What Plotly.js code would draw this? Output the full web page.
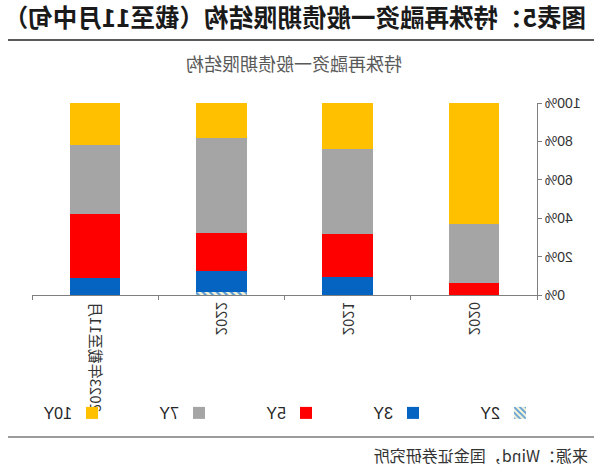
<!DOCTYPE html>
<html>
<head>
<meta charset="utf-8">
<script src="https://cdn.plot.ly/plotly-3.0.1.min.js"></script>
<style>
html,body{margin:0;padding:0;background:#fff;}
#chart{width:600px;height:474px;transform:scaleX(-1);transform-origin:50% 50%;}
</style>
</head>
<body>
<div id="chart"></div>
<script>
// Data
var categories = ["2020", "2021", "2022", "2023年截至11月"];
var seriesNames = ["2Y", "3Y", "5Y", "7Y", "10Y"];
var y2Y  = [0, 0, 1.8, 0];
var y3Y  = [0, 9.4, 10.6, 8.7];
var y5Y  = [6.3, 22.6, 20.0, 33.4];
var y7Y  = [30.7, 43.9, 49.3, 36.2];
var y10Y = [63.0, 24.1, 18.3, 21.7];
var yTickVals = [0, 20, 40, 60, 80, 100];
var yTickText = ["0%", "20%", "40%", "60%", "80%", "100%"];

var headerText = "图表5：特殊再融资一般债期限结构（截至11月中旬）";
var chartTitle = "特殊再融资一般债期限结构";
var sourceText = "来源：Wind，国金证券研究所";

// Layout geometry (pixels)
var W = 600, H = 474;
var M = {l: 63, r: 32, t: 103, b: 179};
var pw = W - M.l - M.r, ph = H - M.t - M.b;
function xp(px){ return (px - M.l) / pw; }
function yp(py){ return (H - M.b - py) / ph; }

var cjk = '"Noto Sans CJK SC", "Noto Sans", sans-serif';
var lat = '"Liberation Sans", Arial, sans-serif';

var colors = {"2Y": "#ffffff", "3Y": "#0563C1", "5Y": "#FF0000", "7Y": "#A5A5A5", "10Y": "#FFC000"};
var allY = [y2Y, y3Y, y5Y, y7Y, y10Y];

var traces = seriesNames.map(function(name, i){
  var t = {
    type: 'bar',
    name: name,
    x: categories,
    y: allY[i],
    marker: {color: colors[name], line: {width: 0}},
    hoverinfo: 'x+y+name'
  };
  if (name === "2Y") {
    t.marker.pattern = {shape: '/', fgcolor: '#5B9BD5', bgcolor: '#f4f4d8', size: 5, solidity: 0.45};
  }
  return t;
});

var layout = {
  width: W, height: H,
  margin: M,
  paper_bgcolor: '#ffffff',
  plot_bgcolor: '#ffffff',
  barmode: 'stack',
  bargap: 0.6,
  showlegend: true,
  font: {family: lat, size: 14, color: '#333333'},
  title: {
    text: chartTitle,
    font: {family: cjk, size: 18, color: '#595959'},
    x: xp(306), xanchor: 'center', xref: 'paper',
    y: 1 - 65 / H, yanchor: 'middle', yref: 'container'
  },
  xaxis: {
    type: 'category',
    tickangle: -90,
    tickfont: {family: cjk, size: 15, color: '#333333'},
    showline: true, linecolor: '#7f7f7f', linewidth: 1,
    ticks: 'outside', ticklen: 4, tickcolor: '#7f7f7f',
    tickson: 'boundaries',
    showgrid: false, zeroline: false,
    fixedrange: true
  },
  yaxis: {
    range: [0, 100],
    tickvals: yTickVals, ticktext: yTickText,
    tickfont: {family: lat, size: 14, color: '#333333'},
    showline: true, linecolor: '#7f7f7f', linewidth: 1,
    ticks: 'outside', ticklen: 4, tickcolor: '#7f7f7f',
    showgrid: false, zeroline: false,
    fixedrange: true
  },
  legend: {
    orientation: 'h',
    traceorder: 'normal',
    x: xp(60), xanchor: 'left', xref: 'paper',
    y: yp(413), yanchor: 'middle', yref: 'paper',
    entrywidth: 62, entrywidthmode: 'pixels',
    itemwidth: 30,
    font: {family: lat, size: 16, color: '#262626'},
    bgcolor: 'rgba(0,0,0,0)'
  },
  annotations: [
    {
      text: '<b>' + headerText + '</b>',
      xref: 'paper', yref: 'paper',
      x: xp(12), y: yp(16), xanchor: 'left', yanchor: 'middle',
      showarrow: false,
      font: {family: cjk, size: 24.5, color: '#1a1a1a'}
    },
    {
      text: sourceText,
      xref: 'paper', yref: 'paper',
      x: xp(10), y: yp(455), xanchor: 'left', yanchor: 'middle',
      showarrow: false,
      font: {family: cjk, size: 16, color: '#333333'}
    }
  ],
  shapes: [
    {type: 'line', xref: 'paper', yref: 'paper', x0: xp(6), x1: xp(592), y0: yp(40), y1: yp(40),
     line: {color: '#5a5a5a', width: 2}},
    {type: 'line', xref: 'paper', yref: 'paper', x0: xp(6), x1: xp(592), y0: yp(437), y1: yp(437),
     line: {color: '#7a7a7a', width: 1.5}}
  ]
};

Plotly.newPlot('chart', traces, layout, {displayModeBar: false, staticPlot: true});
</script>
</body>
</html>
